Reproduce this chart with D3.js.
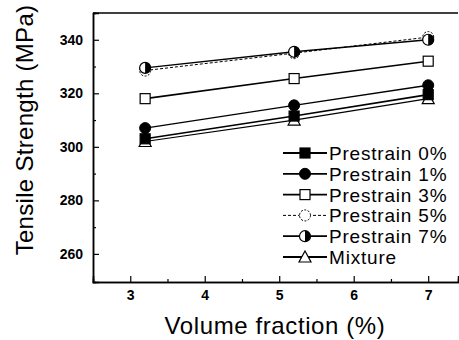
<!DOCTYPE html>
<html>
<head>
<meta charset="utf-8">
<script src="https://cdn.jsdelivr.net/npm/d3@7"></script>
<style>
  body { margin: 0; background: #fff; }
  text { font-family: "Liberation Sans", Arial, sans-serif; }
</style>
</head>
<body>
<div id="chart-area"></div>
<script>
const volume = [3.2, 5.2, 7.0];
const seriesNames = ["Prestrain 0%", "Prestrain 1%", "Prestrain 3%", "Prestrain 5%", "Prestrain 7%", "Mixture"];
const pre0 = [303, 311.5, 319.5];
const pre1 = [307, 315.5, 323];
const pre3 = [318, 325.5, 332];
const pre5 = [328.5, 335, 341];
const pre7 = [329.5, 335.5, 340];
const mixture = [302, 310, 318];
const xTicks = [3, 4, 5, 6, 7];
const yTicks = [260, 280, 300, 320, 340];

const svg = d3.select("#chart-area").append('svg')
                .attr("width", 459)
                .attr("height", 340);

const x = d3.scaleLinear().domain([2.5, 7.4]).range([93, 458]);
const y = d3.scaleLinear().domain([249.5, 350]).range([282, 13]);

// series drawn back to front
const series = [
    {name: seriesNames[5], vals: mixture, mark: 'tri', dash: null, w: 1.2},
    {name: seriesNames[0], vals: pre0, mark: 'sqFill', dash: null, w: 1.6},
    {name: seriesNames[1], vals: pre1, mark: 'circFill', dash: null, w: 1.4},
    {name: seriesNames[2], vals: pre3, mark: 'sqOpen', dash: null, w: 1.6},
    {name: seriesNames[3], vals: pre5, mark: 'circOpen', dash: '3,2', w: 1},
    {name: seriesNames[4], vals: pre7, mark: 'circHalf', dash: null, w: 1.4}
];

function drawMarker(g, type, cx, cy) {
    if (type === 'sqFill' || type === 'sqOpen') {
        g.append('rect').attr('x', cx - 5).attr('y', cy - 5).attr('width', 10).attr('height', 10)
            .attr('fill', type === 'sqFill' ? '#000' : '#fff').attr('stroke', '#000').attr('stroke-width', 1.2);
    } else if (type === 'circFill' || type === 'circOpen') {
        g.append('circle').attr('cx', cx).attr('cy', cy).attr('r', 5.5)
            .attr('fill', type === 'circFill' ? '#000' : '#fff').attr('stroke', '#000')
            .attr('stroke-width', 1).attr('stroke-dasharray', type === 'circOpen' ? '2,1.5' : null);
    } else if (type === 'circHalf') {
        g.append('circle').attr('cx', cx).attr('cy', cy).attr('r', 5.5)
            .attr('fill', '#fff').attr('stroke', '#000').attr('stroke-width', 1.2);
        g.append('path')
            .attr('d', `M${cx},${cy - 5.5} A5.5,5.5 0 0 1 ${cx},${cy + 5.5} Z`)
            .attr('fill', '#000');
    } else if (type === 'tri') {
        g.append('path')
            .attr('d', `M${cx},${cy - 6} L${cx + 6},${cy + 5} L${cx - 6},${cy + 5} Z`)
            .attr('fill', '#fff').attr('stroke', '#000').attr('stroke-width', 1.2);
    }
}

const line = d3.line().x((d, i) => x(volume[i])).y(d => y(d));

series.forEach(s => {
    svg.append('path')
        .attr('d', line(s.vals))
        .attr('fill', 'none')
        .attr('stroke', '#000')
        .attr('stroke-width', s.w)
        .attr('stroke-dasharray', s.dash);
    const g = svg.append('g');
    s.vals.forEach((v, i) => drawMarker(g, s.mark, x(volume[i]), y(v)));
});

// axes
const xAxis = d3.axisBottom(x).tickValues(xTicks).tickSize(-6).tickPadding(8).tickFormat(d3.format('d'));
const xMinor = d3.axisBottom(x).tickValues([3.5, 4.5, 5.5, 6.5]).tickSize(-3).tickFormat('');
const yAxis = d3.axisLeft(y).tickValues(yTicks).tickSize(-6).tickPadding(10);
const yMinor = d3.axisLeft(y).tickValues([270, 290, 310, 330]).tickSize(-3).tickFormat('');

svg.append('g').attr('transform', 'translate(0,282)').call(xMinor);
svg.append('g').attr('transform', 'translate(93,0)').call(yMinor);
const gx = svg.append('g').attr('transform', 'translate(0,282)').call(xAxis);
const gy = svg.append('g').attr('transform', 'translate(93,0)').call(yAxis);
svg.selectAll('.domain').attr('stroke', '#000').attr('stroke-width', 1.5);
svg.selectAll('.tick line').attr('stroke', '#000').attr('stroke-width', 1.2);
[gx, gy].forEach(g => g.selectAll('text')
    .attr('font-size', 14).attr('font-weight', 'bold').attr('fill', '#000')
    .style('font-family', '"Liberation Sans", Arial, sans-serif'));

// top frame line
svg.append('line').attr('x1', 93).attr('x2', 458).attr('y1', 13).attr('y2', 13)
    .attr('stroke', '#000').attr('stroke-width', 1.5);

// axis titles
svg.append('text').attr('x', 275).attr('y', 334).attr('text-anchor', 'middle')
    .attr('font-size', 24).attr('letter-spacing', 0.6).text('Volume fraction (%)');
svg.append('text').attr('transform', 'translate(33,130) rotate(-90)').attr('text-anchor', 'middle')
    .attr('font-size', 24).attr('letter-spacing', 0.3).text('Tensile Strength (MPa)');

// legend
const legendOrder = [1, 2, 3, 4, 5, 0];
legendOrder.forEach((idx, i) => {
    const s = series[idx];
    const ly = 153 + i * 20.8;
    svg.append('line').attr('x1', 283).attr('x2', 327).attr('y1', ly).attr('y2', ly)
        .attr('stroke', '#000').attr('stroke-width', s.dash ? 1 : 1.8)
        .attr('stroke-dasharray', s.dash);
    drawMarker(svg.append('g'), s.mark, 305, ly);
    svg.append('text').attr('x', 329).attr('y', ly + 7).attr('font-size', 19)
        .attr('letter-spacing', 0.8).text(s.name);
});
</script>
</body>
</html>
